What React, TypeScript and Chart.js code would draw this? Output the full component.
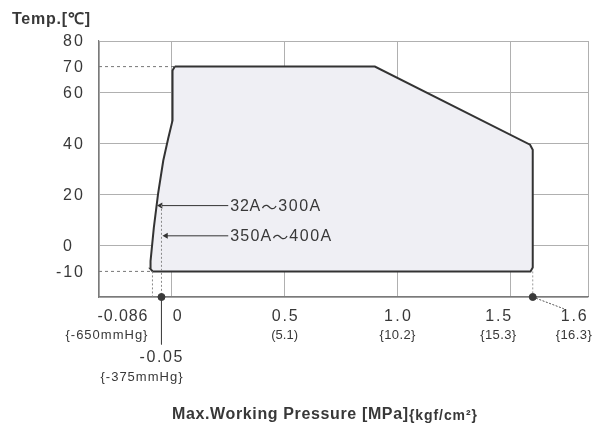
import React, { useEffect, useRef } from "react";
import { Chart, registerables } from "chart.js";

Chart.register(...registerables);

// ---- data ----
const envelopeX = [0.013, 0.9, 1.588, 1.6, 1.6, 1.59, -0.085, -0.095, -0.095, -0.094, -0.08, -0.061, -0.038, -0.016, 0.003, 0.003, 0.013];
const envelopeY = [70, 70, 39.5, 37.5, -8.5, -10, -10, -9, -7, -6, 7, 20.4, 33.3, 42, 49, 68.5, 70];

const xMin = -0.323;
const xMax = 1.845;
const yMin = -20;
const yMax = 80;

const xGridValues = [0, 0.5, 1.0, 1.5];
const yGridValues = [0, 20, 40, 60];
const yTickValues = [80, 70, 60, 40, 20, 0, -10];

const xLabelValues = [-0.086, 0, 0.5, 1.0, 1.5, 1.6];
const xLabelMain = ["-0.086", "0", "0.5", "1.0", "1.5", "1.6"];
const xLabelSub = ["{-650mmHg}", "", "(5.1)", "{10.2}", "{15.3}", "{16.3}"];

const vacuumValue = -0.05;
const vacuumMain = "-0.05";
const vacuumSub = "{-375mmHg}";

const refTemps = [70, -10];
const refPressures = [0.013, -0.095];

const sizeLabelsFrom = ["32A", "350A"];
const sizeLabelsTo = ["300A", "400A"];
const sizeSep = "～";
const sizeLabelTemps = [15.7, 3.9];
const sizeLabelStartX = [0.25, 0.25];
const sizeLabelEndX = [-0.05, -0.026];

const vacuumLineTop = 16;
const markerX = [-0.046, 1.6];

const FONT = "'Liberation Sans', Arial, sans-serif";
const CJK = "'Noto Sans CJK JP', sans-serif";
const TEXT = "#383838";

function drawFit(ctx: any, text: string, x: number, y: number, font: string, width: number, align: string) {
  ctx.font = font;
  ctx.letterSpacing = "0px";
  const w = ctx.measureText(text).width;
  const sp = Math.max(0, (width - w) / Math.max(1, text.length - 1));
  ctx.letterSpacing = sp + "px";
  let left = x;
  if (align === "right") left = x - width;
  else if (align === "center") left = x - width / 2;
  ctx.textAlign = "left";
  ctx.fillText(text, left, y);
  ctx.letterSpacing = "0px";
}

export default function App() {
  const ref = useRef<HTMLCanvasElement>(null);

  useEffect(() => {
    document.body.style.margin = "0";
    const envelope = envelopeX.map((x, i) => ({ x, y: envelopeY[i] }));

    const datasets: any[] = [
      {
        data: envelope,
        showLine: true,
        fill: "shape",
        backgroundColor: "#efeff4",
        borderColor: "#333333",
        borderWidth: 2,
        pointRadius: 0,
        tension: 0,
        order: 1,
      },
    ];
    refTemps.forEach((t, i) => {
      datasets.push({
        data: [{ x: xMin, y: t }, { x: refPressures[i], y: t }],
        showLine: true,
        borderColor: "#777",
        borderWidth: 1,
        borderDash: [3, 3],
        pointRadius: 0,
        order: 2,
      });
    });
    datasets.push({
      data: [{ x: -0.086, y: -10 }, { x: -0.086, y: yMin }],
      showLine: true, borderColor: "#888", borderWidth: 1, borderDash: [2, 2], pointRadius: 0, order: 0,
    });
    datasets.push({
      data: [{ x: markerX[0], y: vacuumLineTop }, { x: markerX[0], y: yMin }],
      showLine: true, borderColor: "#888", borderWidth: 1, borderDash: [2, 2], pointRadius: 0, order: 0,
    });
    datasets.push({
      data: [{ x: 1.6, y: -10 }, { x: 1.6, y: yMin }],
      showLine: true, borderColor: "#999", borderWidth: 1, borderDash: [2, 2], pointRadius: 0, order: 0,
    });
    datasets.push({
      data: [{ x: markerX[0], y: yMin }, { x: markerX[0], y: -38.5 }],
      showLine: true, borderColor: "#444", borderWidth: 1, pointRadius: 0, clip: false, order: 0,
    });
    datasets.push({
      data: [{ x: 1.6, y: yMin }, { x: 1.738, y: -24.6 }],
      showLine: true, borderColor: "#555", borderWidth: 1, borderDash: [2, 1.5], pointRadius: 0, clip: false, order: 0,
    });
    sizeLabelsFrom.forEach((_, i) => {
      datasets.push({
        data: [{ x: sizeLabelStartX[i], y: sizeLabelTemps[i] }, { x: sizeLabelEndX[i], y: sizeLabelTemps[i] }],
        showLine: true,
        borderColor: "#333",
        borderWidth: 1,
        pointRadius: [0, 3.5],
        pointStyle: "triangle",
        rotation: 270,
        pointBackgroundColor: "#333",
        pointBorderColor: "#333",
        pointBorderWidth: 0,
        order: 0,
      });
    });
    datasets.push({
      data: markerX.map((x) => ({ x, y: yMin })),
      showLine: false,
      pointRadius: 3.5,
      pointBackgroundColor: "#3a3a3a",
      pointBorderColor: "#3a3a3a",
      clip: false,
      order: -1,
    });

    const labels = {
      id: "labels",
      afterDraw(chart: any) {
        const ctx = chart.ctx;
        const xs = chart.scales.x;
        const ys = chart.scales.y;
        ctx.save();
        ctx.fillStyle = TEXT;
        ctx.textBaseline = "middle";
        const mainFont = `16px ${FONT}`;
        const subFont = `13px ${FONT}`;
        yTickValues.forEach((v) => {
          const s = String(v);
          const w = s.length === 3 ? 27 : 20;
          drawFit(ctx, s, 83, ys.getPixelForValue(v) + 1, mainFont, w, "right");
        });
        const offsets = [-5, 1, 0, 0, -12, 41];
        const aligns = ["right", "left", "center", "center", "center", "center"];
        const mainW = [50, 9, 26, 27, 26, 26];
        const subW = [82, 0, 27, 36, 36, 36];
        xLabelValues.forEach((v, i) => {
          const px = xs.getPixelForValue(v);
          drawFit(ctx, xLabelMain[i], px + offsets[i], 317, mainFont, mainW[i], aligns[i]);
          if (xLabelSub[i]) {
            drawFit(ctx, xLabelSub[i], px + offsets[i], 335, subFont, subW[i], aligns[i]);
          }
        });
        const vp = xs.getPixelForValue(markerX[0]);
        drawFit(ctx, vacuumMain, vp + 21, 358, mainFont, 43, "right");
        drawFit(ctx, vacuumSub, vp + 21, 377, subFont, 82, "right");
        sizeLabelsFrom.forEach((s, i) => {
          const x0 = xs.getPixelForValue(sizeLabelStartX[i]) + 2;
          const y = ys.getPixelForValue(sizeLabelTemps[i]) + 1;
          const fw = s.length === 3 ? 30 : 41;
          drawFit(ctx, s, x0, y, mainFont, fw, "left");
          ctx.font = `16px ${CJK}`;
          ctx.textAlign = "left";
          ctx.fillText(sizeSep, x0 + fw + 1, y);
          const tw = ctx.measureText(sizeSep).width;
          drawFit(ctx, sizeLabelsTo[i], x0 + fw + 1 + tw + 1, y, mainFont, 42, "left");
        });
        drawFit(ctx, "Temp.[℃]", 12, 20, `bold 16px ${FONT}`, 78, "left");
        drawFit(ctx, "Max.Working Pressure [MPa]", 172, 415, `bold 16px ${FONT}`, 236, "left");
        drawFit(ctx, "{kgf/cm²}", 409, 416, `bold 14px ${FONT}`, 68, "left");
        ctx.restore();
      },
    };

    const chart = new Chart(ref.current!, {
      type: "scatter",
      data: { datasets },
      options: {
        animation: false,
        responsive: false,
        layout: { padding: { left: 99, top: 41, right: 4, bottom: 131 } },
        plugins: { legend: { display: false }, tooltip: { enabled: false } },
        scales: {
          x: {
            type: "linear",
            min: xMin,
            max: xMax,
            afterBuildTicks: (s: any) => {
              s.ticks = [xMin, ...xGridValues, xMax].map((value) => ({ value }));
            },
            ticks: { display: false },
            grid: { color: "#b0b0b0", lineWidth: 1, drawTicks: false },
            border: { color: "#7a7a7a", width: 1.2 },
          },
          y: {
            type: "linear",
            min: yMin,
            max: yMax,
            afterBuildTicks: (s: any) => {
              s.ticks = [yMin, ...yGridValues, yMax].map((value) => ({ value }));
            },
            ticks: { display: false },
            grid: { color: "#b0b0b0", lineWidth: 1, drawTicks: false },
            border: { color: "#7a7a7a", width: 1.2 },
          },
        },
      },
      plugins: [labels],
    });
    return () => chart.destroy();
  }, []);

  return (
    <div style={{ width: 593, height: 428 }}>
      <canvas ref={ref} width={593} height={428} />
    </div>
  );
}
